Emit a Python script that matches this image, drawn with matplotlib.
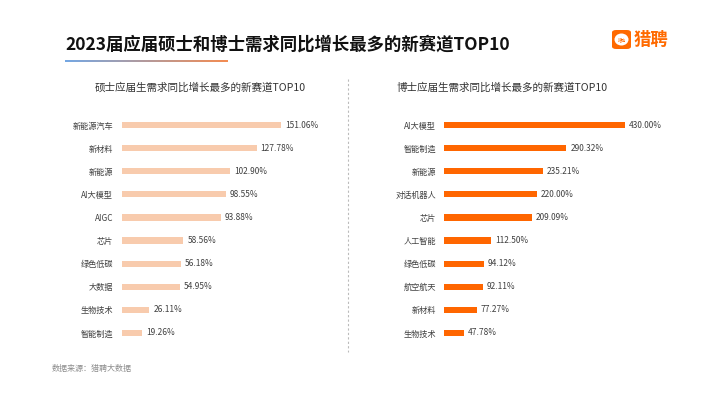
import numpy as np
import matplotlib
matplotlib.use('Agg')
from matplotlib import pyplot as plt
from matplotlib.collections import LineCollection
from matplotlib.patches import FancyBboxPatch, Ellipse

plt.rcParams['font.family'] = ['Noto Sans CJK SC', 'DejaVu Sans']

# Data
title = '2023届应届硕士和博士需求同比增长最多的新赛道TOP10'
master_title = '硕士应届生需求同比增长最多的新赛道TOP10'
phd_title = '博士应届生需求同比增长最多的新赛道TOP10'
source = '数据来源：猎聘大数据'

master_cats = ['新能源汽车', '新材料', '新能源', 'AI大模型', 'AIGC',
               '芯片', '绿色低碳', '大数据', '生物技术', '智能制造']
master_vals = [151.06, 127.78, 102.90, 98.55, 93.88, 58.56, 56.18, 54.95, 26.11, 19.26]

phd_cats = ['AI大模型', '智能制造', '新能源', '对话机器人', '芯片',
            '人工智能', '绿色低碳', '航空航天', '新材料', '生物技术']
phd_vals = [430.00, 290.32, 235.21, 220.00, 209.09, 112.50, 94.12, 92.11, 77.27, 47.78]

W, H = 716, 408
fig = plt.figure(figsize=(W / 100, H / 100), dpi=100)
fig.patch.set_facecolor('white')


def fx(x):
    return x / W


def fy(y):
    return 1 - y / H


# Title and gradient underline
fig.text(fx(65), fy(45), title, fontsize=12.5, weight='bold', color='#111111',
         ha='left', va='center')

xs = np.linspace(fx(65), fx(228), 80)
segs = [[(xs[i], fy(61)), (xs[i + 1], fy(61))] for i in range(len(xs) - 1)]
c1 = np.array([0.40, 0.62, 0.88])
c2 = np.array([0.95, 0.50, 0.25])
t = np.linspace(0, 1, len(segs))
cols = [tuple(c1 * (1 - k) + c2 * k) for k in t]
lc = LineCollection(segs, colors=cols, linewidths=1.3, transform=fig.transFigure)
fig.add_artist(lc)

# Logo
box = FancyBboxPatch((fx(612), fy(49)), fx(19), 19 / H,
                     boxstyle='round,pad=0,rounding_size=0.006',
                     facecolor='#FF6A00', edgecolor='none', transform=fig.transFigure)
fig.add_artist(box)
fig.add_artist(Ellipse((fx(621.5), fy(39.5)), 14 / W, 12 / H, facecolor='white',
                       edgecolor='none', transform=fig.transFigure))
fig.text(fx(621.5), fy(39.5), '猎聘', fontsize=3, color='#FF6A00', ha='center', va='center')
fig.text(fx(634), fy(40), '猎聘', fontsize=12.5, weight='bold', color='#FF6A00',
         ha='left', va='center')

# Subtitles and divider
fig.text(fx(200), fy(88), master_title, fontsize=7.6, color='#333333', ha='center', va='center')
fig.text(fx(502.5), fy(88), phd_title, fontsize=7.6, color='#333333', ha='center', va='center')
fig.add_artist(plt.Line2D([fx(348), fx(348)], [fy(79), fy(352)], color='#BBBBBB',
                          linewidth=0.8, linestyle=(0, (2, 2)), transform=fig.transFigure))

# Source
fig.text(fx(52), fy(368), source, fontsize=5.8, color='#8C8C8C', ha='left', va='center')


def draw_bars(left_px, width_px, xmax, cats, vals, color, pad):
    top, bottom = 113.45, 344.55
    ax = fig.add_axes([fx(left_px), fy(bottom), width_px / W, (bottom - top) / H])
    y = np.arange(len(cats))
    ax.barh(y, vals, height=0.27, color=color)
    ax.set_xlim(0, xmax)
    ax.set_ylim(len(cats) - 0.5, -0.5)
    ax.set_yticks(y)
    ax.set_yticklabels(cats, fontsize=5.9, color='#404040')
    ax.tick_params(axis='y', length=0, pad=pad)
    ax.set_xticks([])
    for s in ax.spines.values():
        s.set_visible(False)
    ax.patch.set_alpha(0)
    for i, v in enumerate(vals):
        ax.annotate(f'{v:.2f}%', (v, i), xytext=(3, 0), textcoords='offset points',
                    fontsize=6, color='#404040', ha='left', va='center')
    return ax


draw_bars(121.7, 211, 200, master_cats, master_vals, '#F8CBAD', 6.2)
draw_bars(444, 210.5, 500, phd_cats, phd_vals, '#FF6600', 5.8)

fig.savefig('out.png', dpi=100, facecolor='white')
